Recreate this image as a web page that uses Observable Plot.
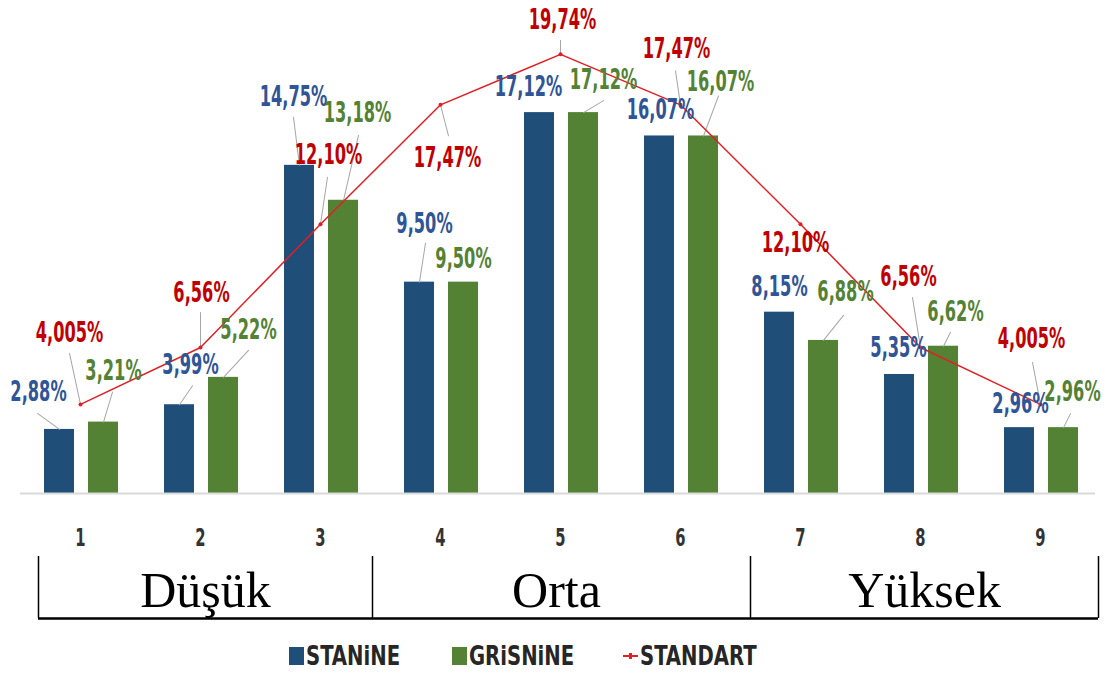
<!DOCTYPE html>
<html>
<head>
<meta charset="utf-8">
<script src="https://cdn.jsdelivr.net/npm/d3@7"></script>
<script src="https://cdn.jsdelivr.net/npm/@observablehq/plot@0.6"></script>
<style>
  html, body { margin: 0; padding: 0; background: #ffffff; }
  #wrap { position: relative; width: 1105px; height: 673px; overflow: hidden; }
  #legend { position: absolute; left: 0; top: 625px; width: 1105px; height: 48px; }
  .item { position: absolute; top: 16px; display: flex; align-items: center; height: 30px;
          font-family: 'DejaVu Sans Condensed', 'DejaVu Sans', sans-serif; font-weight: bold;
          font-size: 26px; color: #262626; white-space: nowrap; }
  .txt { display: inline-block; transform: scaleX(0.84); transform-origin: 0 50%; }
  .sw { display: inline-block; width: 15px; height: 18px; margin-right: 2px; }
  .ln { position: relative; display: inline-block; width: 15px; height: 18px; margin-right: 2px; }
  .ln::before { content: ""; position: absolute; left: 0; right: 0; top: 8px; height: 2px; background: #E31E24; }
  .ln::after { content: ""; position: absolute; left: 6px; top: 6px; width: 3px; height: 6px; background: #E31E24; }
</style>
</head>
<body>
<div id="wrap">
  <div id="chart"></div>
  <div id="legend"></div>
</div>
<script>
// ---- data ----
const categories = ["1", "2", "3", "4", "5", "6", "7", "8", "9"];
const stanine   = [2.88, 3.99, 14.75, 9.50, 17.12, 16.07, 8.15, 5.35, 2.96];
const grisnine  = [3.21, 5.22, 13.18, 9.50, 17.12, 16.07, 6.88, 6.62, 2.96];
const standart  = [4.005, 6.56, 12.10, 17.47, 19.74, 17.47, 12.10, 6.56, 4.005];
const groupNames = ["Düşük", "Orta", "Yüksek"];
const groupCenters = ["2", "5", "8"];
const seriesNames = ["STANiNE", "GRiSNiNE", "STANDART"];

// ---- layout (label placement, pixel offsets) ----
const stanineLabelOffsets  = [[-21,-37],[11,-40],[-6,-68],[5,-58],[-11,-25],[1,-26],[0,-25],[-1,-26],[1,-23]];
const stanineLeaders       = [[-22,-16],[13,-19],[-6,-48],[6,-39],null,null,null,null,null];
const grisnineLabelOffsets = [[10,-51],[25,-47],[14,-87],[0,-23],[20,-32],[17,-54],[22,-48],[12,-34],[9,-35]];
const grisnineLeaders      = [[9,-30],[25,-27],[15,-65],null,[20,-12],[15,-40],[20,-25],[7,-14],[7,-14]];
const standartLabelOffsets = [[-11,-71],[1,-54],[8,-69],[7,53],[2,-34],[-4,-56],[-5,19],[-12,-70],[-9,-65]];
const standartLeaders      = [[-11,-51],[0,-35],[7,-47],[8,31],[0,-14],[-5,-34],null,[-8,-50],[-8,-42]];
const boundaryCats = ["1", "3", "6", "9"];
const boundaryDx   = [-42, 52, 70, 58];
const groupDx      = [5, -4, 4];

const colors = { stanine: "#1F4E79", grisnine: "#548235", standart: "#E31E24" };
const labelColors = { stanine: "#2F5597", grisnine: "#548235", standart: "#C00000" };
const barDx = { stanine: -21, grisnine: 23, standart: 0 };

const numFont = "'DejaVu Sans Condensed', 'DejaVu Sans', sans-serif";
const fmt = v => { let s = v.toFixed(3); if (s.endsWith("0")) s = s.slice(0, -1); return s.replace(".", ",") + "%"; };

const rows = (vals) => categories.map((c, i) => ({ cat: c, v: vals[i], i }));
const S = rows(stanine), G = rows(grisnine), R = rows(standart);

function leaderMark(data, leaders, key) {
  const d = data.filter(r => leaders[r.i]).map(r => {
    const [ex, ey] = leaders[r.i];
    return { ...r, len: Math.hypot(ex, ey), rot: Math.atan2(ex, -ey) * 180 / Math.PI };
  });
  return Plot.vector(d, {
    x: "cat", y: "v", length: "len", rotate: "rot", anchor: "start",
    dx: barDx[key], stroke: "#A6A6A6", strokeWidth: 1,
    shape: { draw(ctx, l) { ctx.moveTo(0, 0); ctx.lineTo(0, -l); } }
  });
}
function labelMarks(data, offsets, key) {
  return data.map(r => Plot.text([r], {
    x: "cat", y: "v", text: d => fmt(d.v),
    dx: barDx[key] + offsets[r.i][0], dy: offsets[r.i][1],
    fill: labelColors[key], fontSize: 22, fontWeight: "bold", fontFamily: numFont
  }));
}

const chart = Plot.plot({
  width: 1105,
  height: 625,
  marginTop: 20,
  marginBottom: 7,
  marginLeft: 20,
  marginRight: 5,
  style: { background: "#ffffff", overflow: "visible" },
  x: { type: "band", domain: categories, padding: 0, axis: null },
  y: { domain: [0, 21.26], range: [493, 20], axis: null },
  length: { type: "identity" },
  marks: [
    Plot.barY(S, { x: "cat", y: "v", fill: colors.stanine, insetLeft: 24, insetRight: 66 }),
    Plot.barY(G, { x: "cat", y: "v", fill: colors.grisnine, insetLeft: 68, insetRight: 22 }),
    Plot.ruleY([0], { stroke: "#D9D9D9", strokeWidth: 2, insetRight: 5 }),
    leaderMark(S, stanineLeaders, "stanine"),
    leaderMark(G, grisnineLeaders, "grisnine"),
    leaderMark(R, standartLeaders, "standart"),
    Plot.line(R, { x: "cat", y: "v", stroke: colors.standart, strokeWidth: 1.5 }),
    Plot.dot(R, { x: "cat", y: "v", r: 2, fill: colors.standart }),
    ...labelMarks(S, stanineLabelOffsets, "stanine"),
    ...labelMarks(G, grisnineLabelOffsets, "grisnine"),
    ...labelMarks(R, standartLabelOffsets, "standart"),
    // category axis labels
    Plot.text(categories, { x: d => d, y: () => 0, dy: 44, fill: "#333333", fontSize: 20, fontWeight: "bold", fontFamily: numFont }),
    // group bracket
    ...boundaryCats.map((c, i) => Plot.ruleX([c], { x: d => d, dx: boundaryDx[i], stroke: "#000000", strokeWidth: 1.5, insetTop: 536 })),
    Plot.ruleY([0], { dy: 125, stroke: "#000000", strokeWidth: 2.5, insetLeft: 18, insetRight: 2 }),
    ...groupNames.map((g, i) => Plot.text([g], { x: () => groupCenters[i], y: () => 0, text: d => d, dx: groupDx[i], dy: 97, fill: "#000000", fontSize: 50, fontFamily: "'Liberation Serif', 'Times New Roman', serif" }))
  ]
});
document.getElementById("chart").appendChild(chart);

// condensed, tall look of the original number font
chart.querySelectorAll('g[aria-label="text"]').forEach(g => {
  if (!(g.getAttribute("font-family") || "").includes("Condensed")) return;
  g.querySelectorAll("text").forEach(t => {
    const tr = t.getAttribute("transform") || "";
    t.setAttribute("transform", tr + " scale(0.82,1.25)");
  });
});

// legend
const legend = document.getElementById("legend");
const legendLeft = [289, 452, 623];
const legendKinds = ["stanine", "grisnine", "standart"];
seriesNames.forEach((name, i) => {
  const item = document.createElement("div");
  item.className = "item";
  item.style.left = legendLeft[i] + "px";
  const k = legendKinds[i];
  const sw = document.createElement("span");
  if (k === "standart") { sw.className = "ln"; }
  else { sw.className = "sw"; sw.style.background = colors[k]; }
  item.appendChild(sw);
  const t = document.createElement("span");
  t.className = "txt";
  t.textContent = name;
  item.appendChild(t);
  legend.appendChild(item);
});
</script>
</body>
</html>
